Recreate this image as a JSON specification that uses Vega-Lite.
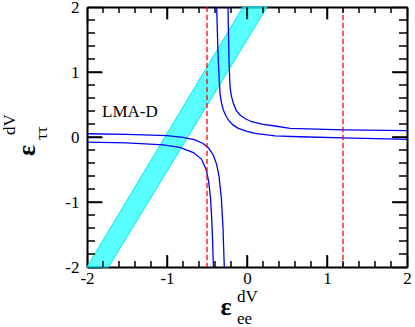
{
  "$schema": "https://vega.github.io/schema/vega-lite/v6.json",
  "width": 320,
  "height": 260,
  "autosize": {"type": "none"},
  "padding": {"left": 87, "top": 7, "right": 8, "bottom": 60},
  "datasets": {
    "band": [
      {"y": -2, "x": -2.0, "x2": -1.73},
      {"y": 2, "x": -0.05, "x2": 0.25}
    ],
    "curves": [
      {"h": 1, "branch": "UR", "x": -0.379, "y": 2.0},
      {"h": 1, "branch": "UR", "x": -0.37, "y": 1.6},
      {"h": 1, "branch": "UR", "x": -0.359, "y": 1.185},
      {"h": 1, "branch": "UR", "x": -0.348, "y": 0.9},
      {"h": 1, "branch": "UR", "x": -0.3375, "y": 0.672},
      {"h": 1, "branch": "UR", "x": -0.32, "y": 0.53},
      {"h": 1, "branch": "UR", "x": -0.296, "y": 0.415},
      {"h": 1, "branch": "UR", "x": -0.265, "y": 0.33},
      {"h": 1, "branch": "UR", "x": -0.234, "y": 0.262},
      {"h": 1, "branch": "UR", "x": -0.18, "y": 0.19},
      {"h": 1, "branch": "UR", "x": -0.109, "y": 0.134},
      {"h": 1, "branch": "UR", "x": 0.0, "y": 0.085},
      {"h": 1, "branch": "UR", "x": 0.1, "y": 0.057},
      {"h": 1, "branch": "UR", "x": 0.35, "y": 0.017},
      {"h": 1, "branch": "UR", "x": 0.66, "y": 0.004},
      {"h": 1, "branch": "UR", "x": 1.2, "y": -0.015},
      {"h": 1, "branch": "UR", "x": 2.0, "y": -0.035},
      {"h": 1, "branch": "LL", "x": -2.0, "y": -0.08},
      {"h": 1, "branch": "LL", "x": -1.5, "y": -0.09},
      {"h": 1, "branch": "LL", "x": -1.05, "y": -0.12},
      {"h": 1, "branch": "LL", "x": -0.84, "y": -0.16},
      {"h": 1, "branch": "LL", "x": -0.67, "y": -0.24},
      {"h": 1, "branch": "LL", "x": -0.57, "y": -0.34},
      {"h": 1, "branch": "LL", "x": -0.51, "y": -0.5},
      {"h": 1, "branch": "LL", "x": -0.48, "y": -0.68},
      {"h": 1, "branch": "LL", "x": -0.455, "y": -0.95},
      {"h": 1, "branch": "LL", "x": -0.44, "y": -1.28},
      {"h": 1, "branch": "LL", "x": -0.43, "y": -1.6},
      {"h": 1, "branch": "LL", "x": -0.42, "y": -2.0},
      {"h": 2, "branch": "UR", "x": -0.2375, "y": 2.0},
      {"h": 2, "branch": "UR", "x": -0.232, "y": 1.6},
      {"h": 2, "branch": "UR", "x": -0.225, "y": 1.185},
      {"h": 2, "branch": "UR", "x": -0.2125, "y": 0.774},
      {"h": 2, "branch": "UR", "x": -0.195, "y": 0.63},
      {"h": 2, "branch": "UR", "x": -0.171, "y": 0.518},
      {"h": 2, "branch": "UR", "x": -0.135, "y": 0.41},
      {"h": 2, "branch": "UR", "x": -0.0875, "y": 0.338},
      {"h": 2, "branch": "UR", "x": -0.02, "y": 0.28},
      {"h": 2, "branch": "UR", "x": 0.059, "y": 0.235},
      {"h": 2, "branch": "UR", "x": 0.2, "y": 0.195},
      {"h": 2, "branch": "UR", "x": 0.35, "y": 0.169},
      {"h": 2, "branch": "UR", "x": 0.54, "y": 0.134},
      {"h": 2, "branch": "UR", "x": 1.2, "y": 0.11},
      {"h": 2, "branch": "UR", "x": 2.0, "y": 0.097},
      {"h": 2, "branch": "LL", "x": -2.0, "y": 0.05},
      {"h": 2, "branch": "LL", "x": -1.5, "y": 0.04},
      {"h": 2, "branch": "LL", "x": -1.0, "y": 0.02},
      {"h": 2, "branch": "LL", "x": -0.8, "y": -0.005},
      {"h": 2, "branch": "LL", "x": -0.65, "y": -0.045},
      {"h": 2, "branch": "LL", "x": -0.55, "y": -0.1},
      {"h": 2, "branch": "LL", "x": -0.48, "y": -0.17},
      {"h": 2, "branch": "LL", "x": -0.42, "y": -0.28},
      {"h": 2, "branch": "LL", "x": -0.38, "y": -0.42},
      {"h": 2, "branch": "LL", "x": -0.35, "y": -0.6},
      {"h": 2, "branch": "LL", "x": -0.32, "y": -0.95},
      {"h": 2, "branch": "LL", "x": -0.3, "y": -1.4},
      {"h": 2, "branch": "LL", "x": -0.284, "y": -2.0}
    ],
    "bounds": [{"x": -0.5}, {"x": 1.2}],
    "major": [{"v": -1}, {"v": 0}, {"v": 1}],
    "minor": [{"v": -1.8}, {"v": -1.6}, {"v": -1.4}, {"v": -1.2}, {"v": -0.8}, {"v": -0.6}, {"v": -0.4}, {"v": -0.2}, {"v": 0.2}, {"v": 0.4}, {"v": 0.6}, {"v": 0.8}, {"v": 1.2}, {"v": 1.4}, {"v": 1.6}, {"v": 1.8}],
    "label": [{"t": "LMA-D", "x": -1.8125, "y": 0.308}],
    "epsX": [{"t": "ε", "x": -0.2625, "y": -2.738}],
    "epsY": [{"t": "ε", "x": -2.65, "y": -0.208}],
    "subX": [
      {"t": "dV", "x": -0.125, "y": -2.538},
      {"t": "ee", "x": -0.125, "y": -2.875}
    ],
    "subY": [
      {"t": "dV", "x": -2.9, "y": 0.031},
      {"t": "ττ", "x": -2.5, "y": -0.046}
    ]
  },
  "resolve": {"axis": {"x": "independent", "y": "independent"}},
  "layer": [
    {
      "data": {"name": "band"},
      "mark": {"type": "area", "orient": "horizontal", "fill": "#00ffff", "fillOpacity": 0.65, "stroke": "#00e8f0", "strokeWidth": 1},
      "encoding": {
        "y": {"field": "y", "type": "quantitative", "scale": {"domain": [-2, 2], "nice": false, "zero": false},
              "axis": {"orient": "left", "values": [-2, -1, 0, 1, 2], "grid": false, "domain": true, "domainColor": "black", "domainWidth": 2, "tickSize": -15, "tickColor": "black", "tickWidth": 1.5, "labelPadding": 23, "labelFont": "Liberation Serif", "labelFontSize": 17, "labelColor": "black", "labelFlush": false, "labelOverlap": false, "title": null, "labelExpr": "replace(datum.label, '−', '-')"}},
        "x": {"field": "x", "type": "quantitative", "scale": {"domain": [-2, 2], "nice": false, "zero": false},
              "axis": {"orient": "bottom", "values": [-2, -1, 0, 1, 2], "grid": false, "domain": true, "domainColor": "black", "domainWidth": 2, "tickSize": -12, "tickColor": "black", "tickWidth": 1.5, "labelPadding": 15, "labelFont": "Liberation Serif", "labelFontSize": 17, "labelColor": "black", "labelFlush": false, "labelOverlap": false, "title": null, "labelExpr": "replace(datum.label, '−', '-')"}},
        "x2": {"field": "x2"}
      }
    },
    {
      "data": {"name": "curves"},
      "transform": [{"filter": "datum.h == 1"}],
      "mark": {"type": "line", "color": "#0000ff", "strokeWidth": 1.3},
      "encoding": {
        "x": {"field": "x", "type": "quantitative", "axis": null},
        "y": {"field": "y", "type": "quantitative", "axis": null},
        "detail": {"field": "branch"}
      }
    },
    {
      "data": {"name": "curves"},
      "transform": [{"filter": "datum.h == 2"}],
      "mark": {"type": "line", "color": "#0000ff", "strokeWidth": 1.3},
      "encoding": {
        "x": {"field": "x", "type": "quantitative", "axis": null},
        "y": {"field": "y", "type": "quantitative", "axis": null},
        "detail": {"field": "branch"}
      }
    },
    {
      "data": {"name": "bounds"},
      "mark": {"type": "rule", "color": "#ff0000", "strokeWidth": 1.3, "strokeDash": [5, 3]},
      "encoding": {
        "x": {"field": "x", "type": "quantitative", "axis": {"orient": "top", "values": [-2, -1, 0, 1, 2], "grid": false, "domain": true, "domainColor": "black", "domainWidth": 2, "tickSize": -12, "tickColor": "black", "tickWidth": 1.5, "labels": false, "title": null}}
      }
    },
    {
      "data": {"name": "major"},
      "mark": {"type": "tick", "orient": "vertical", "color": "black", "size": 12, "thickness": 1.5, "yOffset": -6, "opacity": 1},
      "encoding": {
        "x": {"field": "v", "type": "quantitative", "axis": null},
        "y": {"datum": -2, "type": "quantitative", "axis": null}
      }
    },
    {
      "data": {"name": "major"},
      "mark": {"type": "tick", "orient": "vertical", "color": "black", "size": 12, "thickness": 1.5, "yOffset": 6, "opacity": 1},
      "encoding": {
        "x": {"field": "v", "type": "quantitative", "axis": null},
        "y": {"datum": 2, "type": "quantitative", "axis": null}
      }
    },
    {
      "data": {"name": "minor"},
      "mark": {"type": "tick", "orient": "vertical", "color": "black", "size": 6, "thickness": 1.5, "yOffset": -3, "opacity": 1},
      "encoding": {
        "x": {"field": "v", "type": "quantitative", "axis": null},
        "y": {"datum": -2, "type": "quantitative", "axis": null}
      }
    },
    {
      "data": {"name": "minor"},
      "mark": {"type": "tick", "orient": "vertical", "color": "black", "size": 6, "thickness": 1.5, "yOffset": 3, "opacity": 1},
      "encoding": {
        "x": {"field": "v", "type": "quantitative", "axis": null},
        "y": {"datum": 2, "type": "quantitative", "axis": null}
      }
    },
    {
      "data": {"name": "major"},
      "mark": {"type": "tick", "orient": "horizontal", "color": "black", "size": 15, "thickness": 1.5, "xOffset": 7.5, "opacity": 1},
      "encoding": {
        "y": {"field": "v", "type": "quantitative", "axis": null},
        "x": {"datum": -2, "type": "quantitative", "axis": null}
      }
    },
    {
      "data": {"name": "major"},
      "mark": {"type": "tick", "orient": "horizontal", "color": "black", "size": 15, "thickness": 1.5, "xOffset": -7.5, "opacity": 1},
      "encoding": {
        "y": {"field": "v", "type": "quantitative", "axis": null},
        "x": {"datum": 2, "type": "quantitative", "axis": null}
      }
    },
    {
      "data": {"name": "minor"},
      "mark": {"type": "tick", "orient": "horizontal", "color": "black", "size": 8, "thickness": 1.5, "xOffset": 4, "opacity": 1},
      "encoding": {
        "y": {"field": "v", "type": "quantitative", "axis": null},
        "x": {"datum": -2, "type": "quantitative", "axis": null}
      }
    },
    {
      "data": {"name": "minor"},
      "mark": {"type": "tick", "orient": "horizontal", "color": "black", "size": 8, "thickness": 1.5, "xOffset": -4, "opacity": 1},
      "encoding": {
        "y": {"field": "v", "type": "quantitative", "axis": null},
        "x": {"datum": 2, "type": "quantitative", "axis": null}
      }
    },
    {
      "data": {"name": "label"},
      "mark": {"type": "text", "font": "Liberation Serif", "fontSize": 17, "color": "black", "align": "left", "baseline": "alphabetic"},
      "encoding": {
        "x": {"field": "x", "type": "quantitative", "axis": null},
        "y": {"field": "y", "type": "quantitative", "axis": {"orient": "right", "values": [-2, -1, 0, 1, 2], "grid": false, "domain": true, "domainColor": "black", "domainWidth": 2, "tickSize": -15, "tickColor": "black", "tickWidth": 1.5, "labels": false, "title": null}},
        "text": {"field": "t"}
      }
    },
    {
      "data": {"name": "epsX"},
      "mark": {"type": "text", "font": "Liberation Serif", "fontSize": 26, "fontWeight": "bold", "color": "black", "align": "center", "baseline": "alphabetic"},
      "encoding": {
        "x": {"field": "x", "type": "quantitative", "axis": null},
        "y": {"field": "y", "type": "quantitative", "axis": null},
        "text": {"field": "t"}
      }
    },
    {
      "data": {"name": "epsY"},
      "mark": {"type": "text", "font": "Liberation Serif", "fontSize": 26, "fontWeight": "bold", "color": "black", "align": "center", "baseline": "alphabetic", "angle": 270},
      "encoding": {
        "x": {"field": "x", "type": "quantitative", "axis": null},
        "y": {"field": "y", "type": "quantitative", "axis": null},
        "text": {"field": "t"}
      }
    },
    {
      "data": {"name": "subX"},
      "mark": {"type": "text", "font": "Liberation Serif", "fontSize": 17, "color": "black", "align": "left", "baseline": "alphabetic"},
      "encoding": {
        "x": {"field": "x", "type": "quantitative", "axis": null},
        "y": {"field": "y", "type": "quantitative", "axis": null},
        "text": {"field": "t"}
      }
    },
    {
      "data": {"name": "subY"},
      "mark": {"type": "text", "font": "Liberation Serif", "fontSize": 17, "color": "black", "align": "left", "baseline": "alphabetic", "angle": 270},
      "encoding": {
        "x": {"field": "x", "type": "quantitative", "axis": null},
        "y": {"field": "y", "type": "quantitative", "axis": null},
        "text": {"field": "t"}
      }
    }
  ]
}
